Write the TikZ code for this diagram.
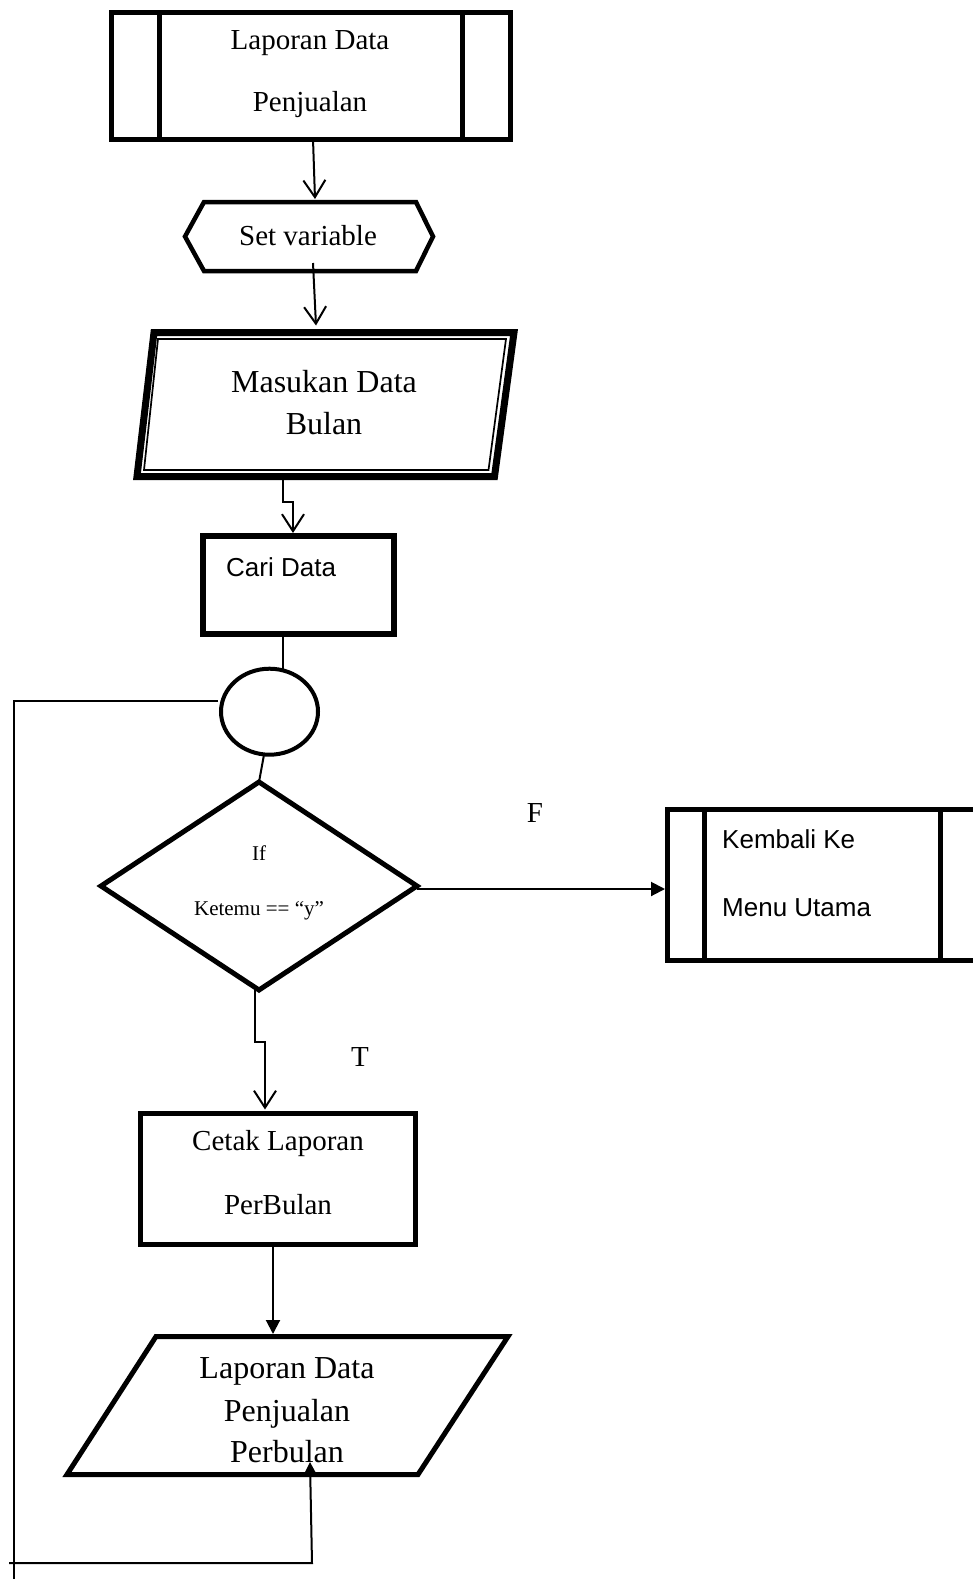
\documentclass[tikz,border=0pt]{standalone}
\usepackage{fontspec}
\setmainfont{Liberation Serif}
\newfontfamily\arialish{Liberation Sans}
\usetikzlibrary{arrows.meta,shapes.geometric,calc}

\begin{document}
\begin{tikzpicture}[x=1pt,y=-1pt,
  rbox/.style={draw=black, rectangle, inner sep=0pt, outer sep=0pt, line width=5pt},
  ghost/.style={rectangle, inner sep=0pt, outer sep=0pt},
  wire/.style={draw=black, line width=2pt},
  vhead/.style={-{Straight Barb[length=17pt,width=22pt]}},
  fhead/.style={-{Triangle[length=14pt,width=14pt]}},
  sr/.style={font=\fontsize{29}{34}\selectfont, inner sep=0pt, anchor=base},
  srbig/.style={font=\fontsize{32}{38}\selectfont, inner sep=0pt, anchor=base},
  srsmall/.style={font=\fontsize{21}{25}\selectfont, inner sep=0pt, anchor=base},
  sans/.style={font=\arialish\fontsize{26}{31}\selectfont, inner sep=0pt, anchor=base west},
]
% page frame
\clip (0,0) rectangle (973,1579);
\fill[white] (0,0) rectangle (973,1579);

% --- Laporan Data Penjualan (predefined process) ---
\node[rbox, minimum width=399pt, minimum height=126pt] (lapdata) at (310.5,76) {};
\draw[line width=5pt] ([xshift=48pt]lapdata.north west) -- ([xshift=48pt]lapdata.south west);
\draw[line width=5pt] ([xshift=-48pt]lapdata.north east) -- ([xshift=-48pt]lapdata.south east);
\node[sr] (lapdata1) at (310,50) {Laporan Data};
\node[sr] (lapdata2) at (310,111) {Penjualan};

% --- Set variable (preparation hexagon) ---
\node[ghost, minimum width=248pt, minimum height=69pt] (setvar) at (309,236.5) {};
\draw[line width=4.5pt, line join=miter]
  (setvar.west) -- ([xshift=19pt]setvar.north west) -- ([xshift=-17pt]setvar.north east)
  -- (setvar.east) -- ([xshift=-17pt]setvar.south east) -- ([xshift=19pt]setvar.south west) -- cycle;
\node[sr] (setvartxt) at (308,245) {Set variable};

% --- Masukan Data Bulan (input, double border) ---
\node[ghost, minimum width=360pt, minimum height=144pt] (masuk) at (334,404.5) {};
\draw[line width=7pt, line join=miter]
  (masuk.north west) -- (masuk.north east) -- ([xshift=-19.5pt]masuk.south east)
  -- ([xshift=-17pt]masuk.south west) -- cycle;
\draw[line width=1.7pt, line join=miter]
  ([xshift=4pt,yshift=-6.5pt]masuk.north west) -- ([xshift=-8pt,yshift=-6.5pt]masuk.north east)
  -- ([xshift=-25.5pt,yshift=6.5pt]masuk.south east) -- ([xshift=-10pt,yshift=6.5pt]masuk.south west) -- cycle;
\node[srbig] (masuk1) at (324,392) {Masukan Data};
\node[srbig] (masuk2) at (324,434) {Bulan};

% --- Cari Data (process) ---
\node[rbox, line width=6pt, minimum width=191pt, minimum height=98pt] (cari) at (298.5,585) {};
\node[sans] (caritxt) at (226,576) {Cari Data};

% --- on-page connector ---
\node[draw=black, ellipse, line width=4pt, inner sep=0pt, outer sep=0pt,
      minimum width=97pt, minimum height=86pt] (conn) at (269.5,711.7) {};

% --- decision ---
\node[draw=black, diamond, line width=5pt, inner sep=0pt, outer sep=0pt,
      minimum width=316pt, minimum height=208pt] (ifnode) at (259,886) {};
\node[srsmall] (iftxt1) at (259,860) {If};
\node[srsmall] (iftxt2) at (259,915) {Ketemu == “y”};

% --- Kembali Ke Menu Utama (predefined process) ---
\node[rbox, minimum width=322.5pt, minimum height=151pt] (kembali) at (828.75,885) {};
\draw[line width=5pt] ([xshift=37pt]kembali.north west) -- ([xshift=37pt]kembali.south west);
\draw[line width=5pt] ([xshift=272.5pt]kembali.north west) -- ([xshift=272.5pt]kembali.south west);
\node[sans] (kembali1) at (722,848) {Kembali Ke};
\node[sans] (kembali2) at (722,916) {Menu Utama};

% --- branch labels ---
\node[sr] (flabel) at (535,822) {F};
\node[sr] (tlabel) at (360,1066) {T};

% --- Cetak Laporan PerBulan (process) ---
\node[rbox, minimum width=275pt, minimum height=131pt] (cetak) at (278,1179) {};
\node[sr] (cetak1) at (278,1150) {Cetak Laporan};
\node[sr] (cetak2) at (278,1214) {PerBulan};

% --- Laporan Data Penjualan Perbulan (output) ---
\node[ghost, minimum width=352pt, minimum height=138pt] (lapout) at (332,1405.5) {};
\draw[line width=5pt, line join=miter]
  (lapout.north west) -- (lapout.north east) -- ([xshift=-90pt]lapout.south east)
  -- ([xshift=-89pt]lapout.south west) -- cycle;
\node[srbig] (lapout1) at (287,1378) {Laporan Data};
\node[srbig] (lapout2) at (287,1421) {Penjualan};
\node[srbig] (lapout3) at (287,1462) {Perbulan};

% --- loop-back route ---
\coordinate (looptop) at (14,700.7);
\coordinate (loopbottom) at (14,1590);
\coordinate (retstart) at (9,1563);
\coordinate (retcorner) at (312,1563);

% --- connectors ---
\draw[wire, vhead] ([xshift=2.5pt]lapdata.south) -- ([xshift=6pt,yshift=3pt]setvar.north);
\draw[wire, vhead] ([xshift=4pt,yshift=8pt]setvar.south) -- ([xshift=-18pt,yshift=7pt]masuk.north);
\draw[wire, vhead] ([xshift=-51pt]masuk.south) -- ++(0,25.5) -| ([xshift=-5.5pt,yshift=3pt]cari.north);
\draw[wire] ([xshift=-15.5pt]cari.south) -- ([xshift=-15.5pt]cari.south |- conn.north);
\draw[wire] ([xshift=-5.5pt]conn.south) -- (ifnode.north);
\draw[wire] ([xshift=-3pt,yshift=11pt]conn.west) -- (looptop) -- (loopbottom);
\draw[wire, fhead] ([yshift=-3pt]ifnode.east) -- ([yshift=-4pt,xshift=-2.5pt]kembali.west);
\draw[wire, vhead] ([xshift=-4pt]ifnode.south) -- ++(0,52) -| ([xshift=-13pt,yshift=4pt]cetak.north);
\draw[wire, fhead] ([xshift=-5pt]cetak.south) -- ([xshift=-59pt,yshift=2.5pt]lapout.north);
\draw[wire, fhead] (retstart) -- (retcorner) -- ([xshift=-22pt,yshift=12.5pt]lapout.south);
\end{tikzpicture}
\end{document}
